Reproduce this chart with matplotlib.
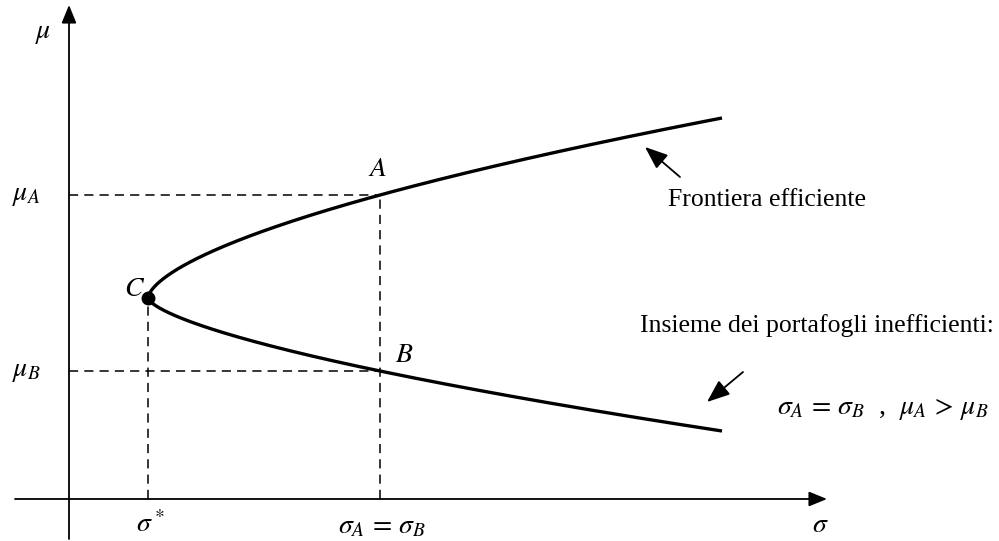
import numpy as np
import matplotlib.pyplot as plt

plt.rcParams['mathtext.fontset'] = 'stix'
plt.rcParams['font.family'] = ['Liberation Serif', 'DejaVu Serif']

# key points of the frontier (sigma, mu), axes origin at (0, 0)
sigma_star, mu_c = 79, 201          # minimum variance portfolio C
sigma_ab = 311                      # common sigma of A and B
mu_a, mu_b = 304, 128
sigma_end = 653
mu_end_up, mu_end_low = 381, 68


def branch(mu_pt, mu_end, n=300):
    # sigma - sigma* = c * |mu - mu_C|^p, fitted through the given point and the end
    d1, d2 = abs(mu_pt - mu_c), abs(mu_end - mu_c)
    p = np.log((sigma_end - sigma_star) / (sigma_ab - sigma_star)) / np.log(d2 / d1)
    c = (sigma_ab - sigma_star) / d1 ** p
    mu = np.linspace(mu_c, mu_end, n)
    return sigma_star + c * np.abs(mu - mu_c) ** p, mu


fig = plt.figure(figsize=(9.99, 5.41), dpi=100)
ax = fig.add_axes([0, 0, 1, 1])
ax.set_xlim(-69, 930)
ax.set_ylim(-42, 499)
ax.axis('off')

# axes with arrow heads
arrow = dict(arrowstyle='-|>,head_length=1.1,head_width=0.45', color='black', lw=1.3,
             shrinkA=0, shrinkB=0)
ax.annotate('', xy=(758, 0), xytext=(-54, 0), arrowprops=arrow)
ax.annotate('', xy=(0, 494), xytext=(0, -40), arrowprops=arrow)

# dashed guides
dash = dict(color='black', lw=1.1, ls=(0, (6, 4)))
ax.plot([0, sigma_ab], [mu_a, mu_a], **dash)
ax.plot([0, sigma_ab], [mu_b, mu_b], **dash)
ax.plot([sigma_ab, sigma_ab], [0, mu_a], **dash)
ax.plot([sigma_star, sigma_star], [0, mu_c], **dash)

# frontier
for mu_pt, mu_end in [(mu_a, mu_end_up), (mu_b, mu_end_low)]:
    s, m = branch(mu_pt, mu_end)
    ax.plot(s, m, color='black', lw=2.4, solid_capstyle='butt')
ax.plot(sigma_star, mu_c, 'o', color='black', ms=9)

fs = 20
ax.text(-26, 466, r'$\mu$', fontsize=fs, ha='center', va='center')
ax.text(-57, mu_a, r'$\mu_A$', fontsize=fs, ha='left', va='center')
ax.text(-57, mu_b, r'$\mu_B$', fontsize=fs, ha='left', va='center')
ax.text(sigma_star + 2, -26, r'$\sigma^*$', fontsize=fs, ha='center', va='center')
ax.text(sigma_ab + 2, -28, r'$\sigma_A \,=\, \sigma_B$', fontsize=fs, ha='center', va='center')
ax.text(751, -27, r'$\sigma$', fontsize=fs, ha='center', va='center')
ax.text(sigma_ab - 2, mu_a + 26, r'$A$', fontsize=fs, ha='center', va='center')
ax.text(sigma_ab + 24, mu_b + 15, r'$B$', fontsize=fs, ha='center', va='center')
ax.text(sigma_star - 13, mu_c + 9, r'$C$', fontsize=fs, ha='center', va='center')

ax.text(599, 299, 'Frontiera efficiente', fontsize=18.5, ha='left', va='center')
ax.text(571, 173, 'Insieme dei portafogli inefficienti:', fontsize=18.5, ha='left', va='center')
ax.text(708, 90, r'$\sigma_A \,=\, \sigma_B$  ,  $\mu_A \,>\, \mu_B$', fontsize=fs,
        ha='left', va='center')

small = dict(arrowstyle='-|>,head_length=1.4,head_width=0.55', color='black', lw=1.3,
             shrinkA=0, shrinkB=0)
ax.annotate('', xy=(576, 352), xytext=(611, 322), arrowprops=small)
ax.annotate('', xy=(638, 97), xytext=(674, 127), arrowprops=small)

fig.savefig('out.png', dpi=100)
